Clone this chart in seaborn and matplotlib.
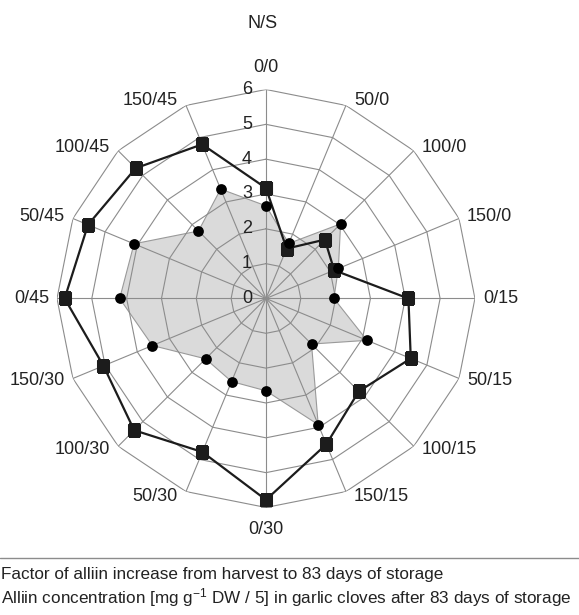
import numpy as np
import matplotlib
matplotlib.use("Agg")
import matplotlib.pyplot as plt
from matplotlib.lines import Line2D
import seaborn as sns

# N/S treatment combinations, clockwise from the top
categories = ["0/0", "50/0", "100/0", "150/0", "0/15", "50/15", "100/15", "150/15",
              "0/30", "50/30", "100/30", "150/30", "0/45", "50/45", "100/45", "150/45"]

# Factor of alliin increase (squares, black line)
factor_increase = [3.17, 1.55, 2.39, 2.12, 4.09, 4.50, 3.77, 4.53,
                   5.78, 4.77, 5.35, 5.05, 5.78, 5.53, 5.29, 4.79]

# Alliin concentration / 5 (circles, grey area)
alliin_conc = [2.66, 1.71, 3.03, 2.25, 1.95, 3.14, 1.85, 3.92,
               2.65, 2.58, 2.45, 3.53, 4.20, 4.10, 2.74, 3.40]

radial_ticks = [0, 1, 2, 3, 4, 5, 6]

legend_labels = [
    "Factor of alliin increase from harvest to 83 days of storage",
    r"Alliin concentration [mg g$^{-1}$ DW / 5] in garlic cloves after 83 days of storage",
]

sns.set_style("white")
plt.rcParams["font.family"] = ["Liberation Sans", "DejaVu Sans"]
plt.rcParams["mathtext.fontset"] = "custom"
plt.rcParams["mathtext.rm"] = "Liberation Sans"
plt.rcParams["mathtext.default"] = "regular"

n = len(categories)
theta = np.arange(n) * 2 * np.pi / n
theta_closed = np.append(theta, 2 * np.pi)


def close(values):
    return np.append(values, values[0])


fig = plt.figure(figsize=(5.79, 6.15), dpi=100)
ax = fig.add_axes([0.0984, 0.1748, 0.7219, 0.6797], projection="polar")
ax.set_theta_offset(np.pi / 2)
ax.set_theta_direction(-1)
ax.set_axis_off()

grid_color = "#8c8c8c"

# polygon grid rings and spokes
for r in radial_ticks[1:]:
    ax.plot(theta_closed, [r] * (n + 1), color=grid_color, lw=0.8, zorder=2)
for th in theta:
    ax.plot([th, th], [0, radial_ticks[-1]], color=grid_color, lw=0.8, zorder=2)

# grey area for alliin concentration
ax.fill(theta_closed, close(alliin_conc), facecolor="#dadada",
        edgecolor="#9a9a9a", lw=0.8, zorder=1)

sns.lineplot(x=theta_closed, y=close(factor_increase), ax=ax, sort=False,
             color="#1c1c1c", lw=1.6, marker="s", markersize=8.5,
             markeredgecolor="#1c1c1c", zorder=3)
sns.scatterplot(x=theta, y=alliin_conc, ax=ax, color="black", s=60,
                edgecolor="black", linewidth=0, zorder=4)

ax.set_ylim(0, radial_ticks[-1])

# radial value labels along the top spoke
for r in radial_ticks:
    ax.annotate(str(r), xy=(0, r), xytext=(-19, 0), textcoords="offset pixels",
                ha="center", va="center", fontsize=13, color="#222222")

# category labels just outside the outer ring
for th, lab in zip(theta, categories):
    s = np.sin(th)
    c = np.cos(th)
    if abs(s) < 0.01:
        ha, dx, dy = "center", 0, 22 * np.sign(c)
    elif s > 0:
        ha, dx, dy = "left", 8, 5 * c
    else:
        ha, dx, dy = "right", -8, 5 * c
    ax.annotate(lab, xy=(th, radial_ticks[-1]), xytext=(dx, dy),
                textcoords="offset pixels", ha=ha, va="center",
                fontsize=13, color="#222222")

fig.text(263 / 579, 1 - 24 / 615, "N/S", ha="center", va="center",
         fontsize=13, color="#222222")

# legend area below the chart
y_line = 1 - 557.7 / 615
fig.add_artist(Line2D([0, 1], [y_line, y_line], transform=fig.transFigure,
                      color="#8c8c8c", lw=1.0))
fig.text(1 / 579, 1 - 575 / 615, legend_labels[0], ha="left", va="center",
         fontsize=12.3, color="#222222")
fig.text(1 / 579, 1 - 598 / 615, legend_labels[1], ha="left", va="center",
         fontsize=12.3, color="#222222")

fig.savefig("out.png", dpi=100)
